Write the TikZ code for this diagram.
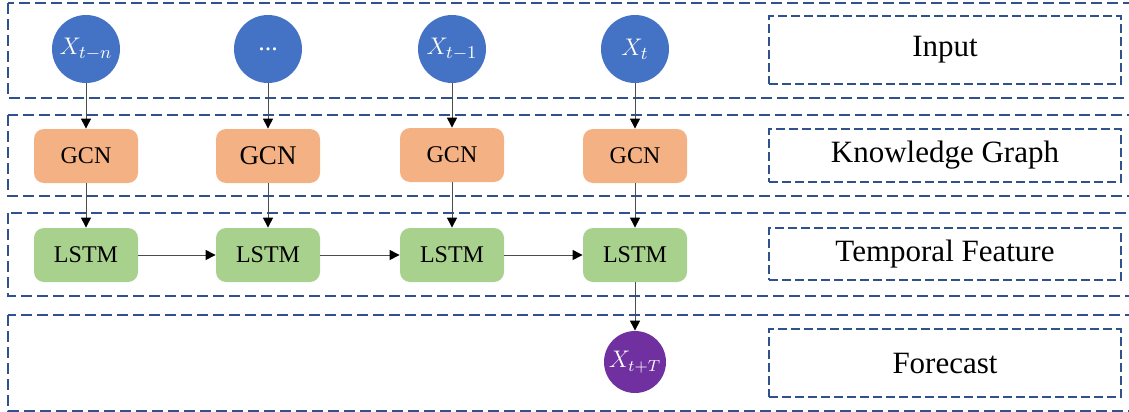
\documentclass[tikz,border=0pt]{standalone}
\usepackage{fontspec}
\setmainfont{Liberation Serif}
\usetikzlibrary{arrows.meta}
\definecolor{bc}{RGB}{68,114,196}
\definecolor{gc}{RGB}{244,177,131}
\definecolor{lc}{RGB}{169,209,142}
\definecolor{pc}{RGB}{112,48,160}
\definecolor{dc}{RGB}{47,82,143}
\tikzset{xin/.style={circle,fill=bc,minimum size=34pt,inner sep=0pt,text=white,font=\fontsize{13}{15}\selectfont},
 xout/.style={xin,fill=pc,minimum size=31pt,font=\fontsize{12}{14}\selectfont},
 gcn/.style={fill=gc,rounded corners=5pt,minimum width=52pt,minimum height=27pt,font=\fontsize{12}{14}\selectfont},
 lstm/.style={gcn,fill=lc},
 band/.style={draw=dc,dash pattern=on 5.5pt off 2.5pt,line width=1pt},
 tag/.style={draw=dc,dash pattern=on 4.5pt off 2pt,line width=.75pt,minimum width=176pt,minimum height=34pt,font=\fontsize{15.5}{18}\selectfont},
 arr/.style={-{Triangle[length=5pt,width=5pt,color=black]},line width=.5pt,draw=black!70}}
\begin{document}
\begin{tikzpicture}[x=.5pt,y=-.5pt]
\useasboundingbox (0,0) rectangle (1129,412);
% layers
\draw[band] (8,3) rectangle (1140,98);\draw[band] (8,115) rectangle (1140,196);
\draw[band] (8,213) rectangle (1140,296);\draw[band] (8,315) rectangle (1140,411);
\node[tag] (t1) at (945,50) {Input};\node[tag,minimum height=26.5pt] (t2) at (945,155.5) {Knowledge Graph};
\node[tag,minimum height=26pt] (t3) at (945,254) {Temporal Feature};\node[tag] (t4) at (945,363) {Forecast};
% inputs
\node[xin] (x1) at (86,49) {$X_{t-n}$};\node[xin] (x2) at (268,49) {...};
\node[xin] (x3) at (452,49) {$X_{t-1}$};\node[xin] (x4) at (635,49) {$X_t$};
\node[gcn] (g1) at (86,156) {GCN};\node[gcn,font=\fontsize{13.5}{16}\selectfont] (g2) at (268,156) {GCN};
\node[gcn] (g3) at (452,155) {GCN};\node[gcn] (g4) at (635,156) {GCN};
\node[lstm] (m1) at (86,255) {LSTM};\node[lstm] (m2) at (268,255) {LSTM};
\node[lstm] (m3) at (452,255) {LSTM};\node[lstm] (m4) at (635,255) {LSTM};
\node[xout] (y) at (635,362) {$X_{t+T}$};
\draw[arr] (x1)--(g1);\draw[arr] (x2)--(g2);\draw[arr] (x3)--(g3);\draw[arr] (x4)--(g4);
\draw[arr] (g1)--(m1);\draw[arr] (g2)--(m2);\draw[arr] (g3)--(m3);\draw[arr] (g4)--(m4);
\draw[arr] (m1)--(m2);\draw[arr] (m2)--(m3);\draw[arr] (m3)--(m4);\draw[arr] (m4)--(y);
\end{tikzpicture}
\end{document}
